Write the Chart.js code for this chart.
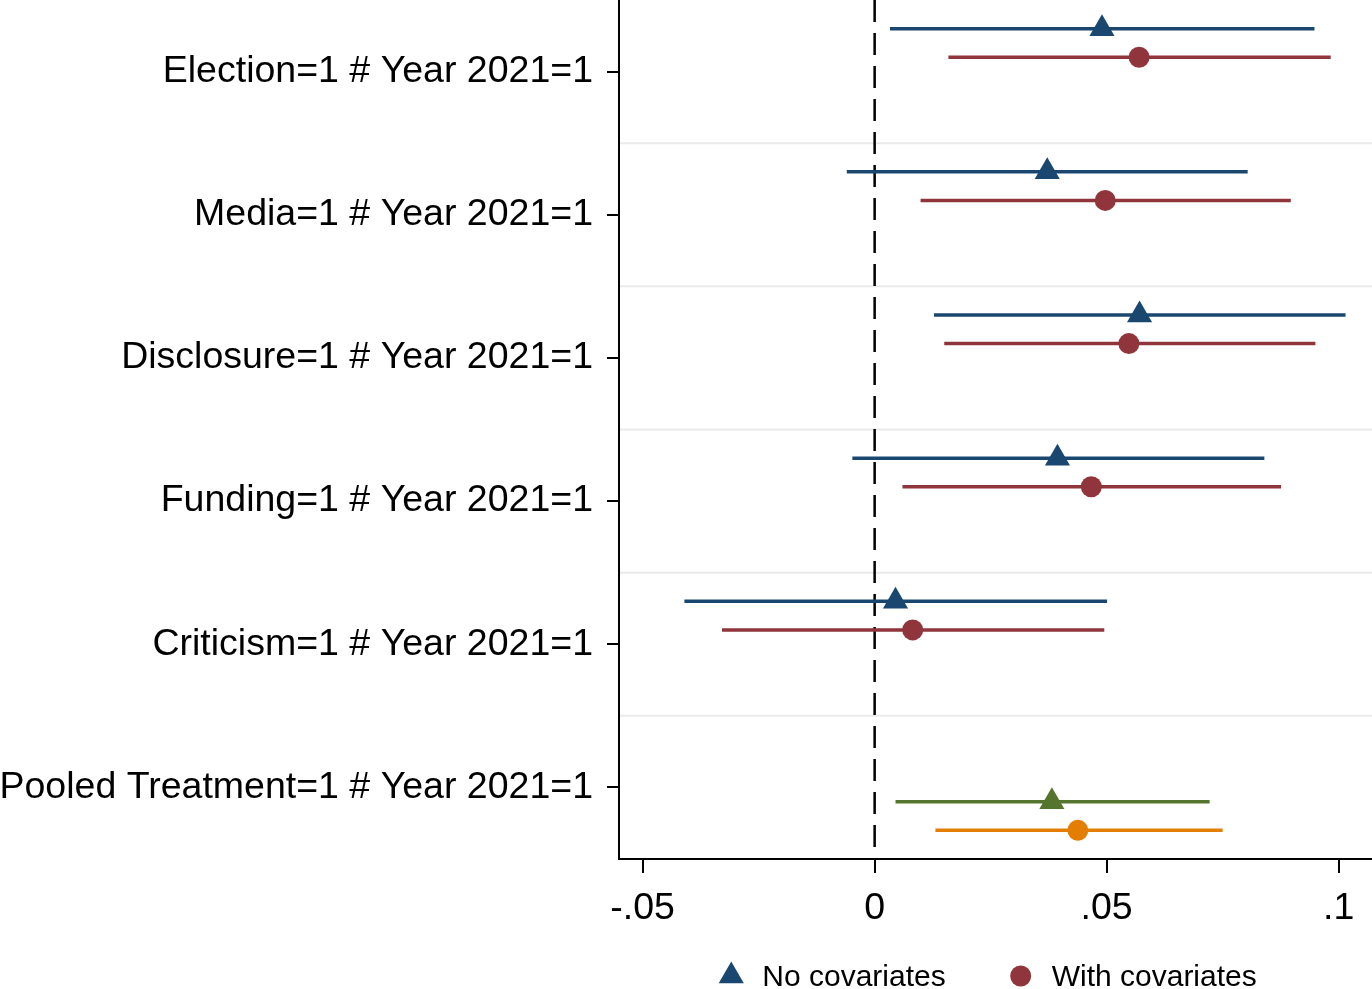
<!DOCTYPE html>
<html>
<head>
<meta charset="utf-8">
<script src="https://cdn.jsdelivr.net/npm/chart.js@4"></script>
<style>
  body { margin: 0; background: #fff; }
  #wrap { width: 1372px; height: 989px; position: relative; }
</style>
</head>
<body>
<div id="wrap"><canvas id="myChart"></canvas></div>
<script>
const categories = [
  "Election=1 # Year 2021=1",
  "Media=1 # Year 2021=1",
  "Disclosure=1 # Year 2021=1",
  "Funding=1 # Year 2021=1",
  "Criticism=1 # Year 2021=1",
  "Pooled Treatment=1 # Year 2021=1",
]

// no covariates (first five rows)
const noCovEst = [0.0490, 0.0372, 0.0571, 0.0394, 0.0045]
const noCovLo = [0.0033, -0.0060, 0.0128, -0.0048, -0.0410]
const noCovHi = [0.0948, 0.0804, 0.1015, 0.0840, 0.0501]

// with covariates (first five rows)
const withCovEst = [0.0570, 0.0497, 0.0548, 0.0467, 0.0082]
const withCovLo = [0.0159, 0.0099, 0.0150, 0.0060, -0.0329]
const withCovHi = [0.0983, 0.0897, 0.0950, 0.0876, 0.0495]

// pooled row: [estimate, lower, upper]
const pooledNoCov = [0.0382, 0.0045, 0.0722]
const pooledWithCov = [0.0438, 0.0131, 0.0750]

const xTicks = [-0.05, 0, 0.05, 0.1]
const legendLabels = ["No covariates", "With covariates"]

// vertical offsets of the two estimates inside a row
const offsetNoCov = -0.3
const offsetWithCov = -0.1
const offsetPooledNoCov = 0.1
const offsetPooledWithCov = 0.3

const NAVY = "#1a476f"
const MAROON = "#90353b"
const GREEN = "#55752f"
const ORANGE = "#e37e00"
const FONT = "'Liberation Sans', Arial, sans-serif"

function rows(est, lo, hi, offset) {
  return est.map((v, i) => ({ x: v, y: i + 1 + offset, lo: lo[i], hi: hi[i] }))
}

const pooledRow = categories.length

const datasets = [
  {
    label: legendLabels[0],
    data: rows(noCovEst, noCovLo, noCovHi, offsetNoCov),
    backgroundColor: NAVY,
    pointStyle: "triangle",
    pointRadius: 14.5,
  },
  {
    label: legendLabels[1],
    data: rows(withCovEst, withCovLo, withCovHi, offsetWithCov),
    backgroundColor: MAROON,
    pointStyle: "circle",
    pointRadius: 10.5,
  },
  {
    label: "pooled no covariates",
    data: [{ x: pooledNoCov[0], y: pooledRow + offsetPooledNoCov, lo: pooledNoCov[1], hi: pooledNoCov[2] }],
    backgroundColor: GREEN,
    pointStyle: "triangle",
    pointRadius: 14.5,
  },
  {
    label: "pooled with covariates",
    data: [{ x: pooledWithCov[0], y: pooledRow + offsetPooledWithCov, lo: pooledWithCov[1], hi: pooledWithCov[2] }],
    backgroundColor: ORANGE,
    pointStyle: "circle",
    pointRadius: 10.5,
  },
]
datasets.forEach((d) => {
  d.borderWidth = 0
  d.pointBorderWidth = 0
  d.pointHoverRadius = d.pointRadius
})

// separators, CIs, zero line, legend
const decorations = {
  id: "decorations",
  beforeDatasetsDraw(chart) {
    const { ctx, chartArea } = chart
    const xs = chart.scales.x
    const ys = chart.scales.y
    ctx.save()
    ctx.strokeStyle = "#eaeaea"
    ctx.lineWidth = 2
    for (let i = 1; i < categories.length; i++) {
      const y = ys.getPixelForValue(i + 0.5)
      ctx.beginPath()
      ctx.moveTo(chartArea.left + 1, y)
      ctx.lineTo(chartArea.right, y)
      ctx.stroke()
    }
    ctx.strokeStyle = "#000"
    ctx.lineWidth = 2.5
    ctx.setLineDash([22, 11])
    const x0 = xs.getPixelForValue(0)
    ctx.beginPath()
    ctx.moveTo(x0, chartArea.top)
    ctx.lineTo(x0, chartArea.bottom)
    ctx.stroke()
    ctx.setLineDash([])
    ctx.lineWidth = 3.5
    chart.data.datasets.forEach((ds) => {
      ctx.strokeStyle = ds.backgroundColor
      ds.data.forEach((p) => {
        const y = ys.getPixelForValue(p.y)
        ctx.beginPath()
        ctx.moveTo(xs.getPixelForValue(p.lo), y)
        ctx.lineTo(xs.getPixelForValue(p.hi), y)
        ctx.stroke()
      })
    })
    ctx.restore()
  },
  afterDraw(chart) {
    const { ctx, chartArea } = chart
    const items = chart.data.datasets.slice(0, 2)
    ctx.save()
    ctx.font = "30px " + FONT
    ctx.textBaseline = "middle"
    const markW = 26, gap = 18, between = 62
    const widths = items.map((d) => ctx.measureText(d.label).width)
    const total = widths.reduce((a, b) => a + b, 0) + 2 * (markW + gap) + between
    let x = (chartArea.left + chartArea.right) / 2 - 8 - total / 2
    const y = 978
    items.forEach((d, i) => {
      ctx.fillStyle = d.backgroundColor
      Chart.helpers.drawPoint(ctx, { pointStyle: d.pointStyle, radius: d.pointRadius, borderWidth: 0 }, x + markW / 2, y - 2)
      ctx.fillStyle = "#000"
      ctx.fillText(d.label, x + markW + gap, y)
      x += markW + gap + widths[i] + between
    })
    ctx.restore()
  },
}

const ctx = document.getElementById("myChart").getContext("2d")
let myChart = new Chart(ctx, {
  type: "scatter",
  data: { datasets: datasets },
  plugins: [decorations],
  options: {
    responsive: true,
    maintainAspectRatio: false,
    animation: false,
    layout: { padding: 0, autoPadding: false },
    plugins: {
      legend: { display: false },
      tooltip: { enabled: false },
    },
    scales: {
      x: {
        type: "linear",
        min: -0.0551,
        max: 0.1072,
        afterBuildTicks: (axis) => {
          axis.ticks = xTicks.map((v) => ({ value: v }))
        },
        afterFit: (scale) => {
          scale.height = 130
          scale.paddingLeft = 0
          scale.paddingRight = 0
        },
        grid: { drawOnChartArea: false, color: "#000", lineWidth: 2, tickLength: 14 },
        border: { color: "#000", width: 2 },
        ticks: {
          color: "#000",
          font: { family: FONT, size: 37.5 },
          padding: 13,
          maxRotation: 0,
          autoSkip: false,
          callback: (v) => (v === 0 ? "0" : String(v).replace("0.", ".")),
        },
      },
      y: {
        type: "linear",
        reverse: true,
        min: 0.5,
        max: categories.length + 0.5,
        afterBuildTicks: (axis) => {
          axis.ticks = categories.map((c, i) => ({ value: i + 1 }))
        },
        afterFit: (scale) => {
          scale.width = 619
          scale.paddingTop = 0
          scale.paddingBottom = 0
        },
        grid: { drawOnChartArea: false, color: "#000", lineWidth: 2, tickLength: 12 },
        border: { color: "#000", width: 2 },
        ticks: {
          color: "#000",
          font: { family: FONT, size: 37.5 },
          padding: 14,
          autoSkip: false,
          callback: (v) => categories[v - 1],
        },
      },
    },
  },
})
</script>
</body>
</html>
